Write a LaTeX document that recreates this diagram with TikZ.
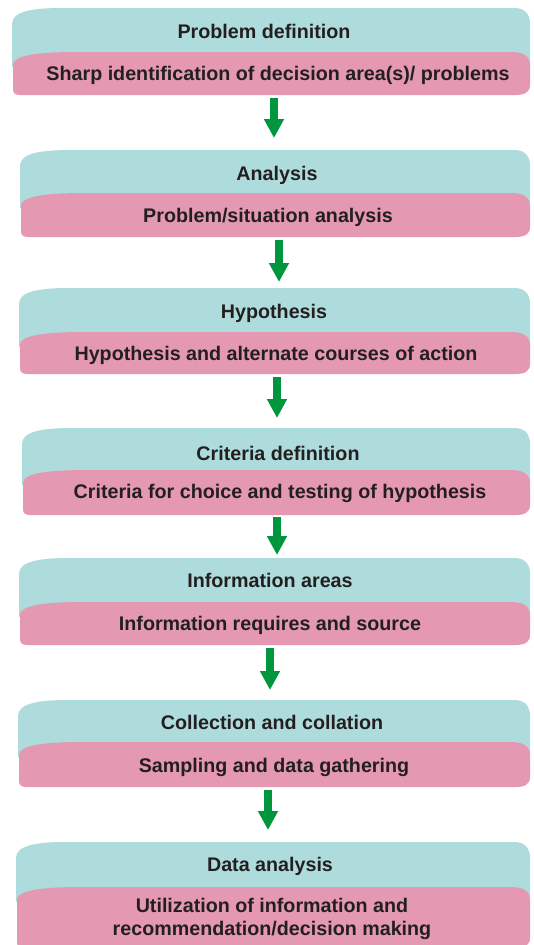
\documentclass[tikz,border=0pt]{standalone}
\usepackage{fontspec}
\setmainfont{Liberation Sans}
\usetikzlibrary{arrows.meta}
\definecolor{tealband}{RGB}{174,219,220}
\definecolor{pinkband}{RGB}{228,152,178}
\definecolor{arrowgreen}{RGB}{0,150,62}
\definecolor{txt}{RGB}{35,31,32}
\newcommand\drawstage[5]{%
  \fill[tealband] (#4,#2+15) -- (#4,#1+16) .. controls (#4,#1+4) and (#4+18,#1) .. (#4+50,#1)
     -- (#5-16,#1) .. controls (#5-6,#1) and (#5,#1+5) .. (#5,#1+16) -- (#5,#2+15) -- cycle;
  \fill[pinkband] (#4+1,#3-6) -- (#4+1,#2+13) .. controls (#4+1,#2+4) and (#4+22,#2) .. (#4+65,#2)
     -- (#5-20,#2) .. controls (#5-6,#2) and (#5,#2+4) .. (#5,#2+14)
     -- (#5,#3-10) .. controls (#5,#3-3) and (#5-5,#3) .. (#5-14,#3)
     -- (#4+8,#3) .. controls (#4+3,#3) and (#4+1,#3-2) .. (#4+1,#3-6) -- cycle;
}
\tikzset{
  lbl/.style={text=txt, font=\fontsize{19.7}{23}\selectfont\bfseries, inner sep=0pt, align=center},
  bigarrow/.style={draw=arrowgreen, line width=7.5pt, -{Triangle[width=19pt,length=19pt]}}
}
\begin{document}
\begin{tikzpicture}[x=1pt,y=-1pt]
\useasboundingbox (0,0) rectangle (533,945);
\drawstage{8}{52}{95}{12}{530}
\drawstage{150}{193}{237}{20}{530}
\drawstage{288}{332}{374}{19}{530}
\drawstage{428}{470}{515}{22}{530}
\drawstage{558}{602}{645}{19}{530}
\drawstage{700}{742}{787}{18}{530}
\drawstage{842}{887}{948}{16}{530}

\node[lbl] (h1) at (264,31) {Problem definition};
\node[lbl] (s1) at (278,75) {Sharp identification of decision area(s)/ problems};
\node[lbl] (h2) at (277,175) {Analysis};
\node[lbl] (s2) at (268,217) {Problem/situation analysis};
\node[lbl] (h3) at (274,313) {Hypothesis};
\node[lbl] (s3) at (276,355) {Hypothesis and alternate courses of action};
\node[lbl] (h4) at (278,453) {Criteria definition};
\node[lbl] (s4) at (280,493) {Criteria for choice and testing of hypothesis};
\node[lbl] (h5) at (270,580) {Information areas};
\node[lbl] (s5) at (270,625) {Information requires and source};
\node[lbl] (h6) at (272,722) {Collection and collation};
\node[lbl] (s6) at (274,767) {Sampling and data gathering};
\node[lbl] (h7) at (270,866) {Data analysis};
\node[lbl] (s7) at (272,919) {Utilization of information and\\recommendation/decision making};

\coordinate (a1s) at (274,98);  \coordinate (a1e) at (274,138);
\coordinate (a2s) at (279,240); \coordinate (a2e) at (279,282);
\coordinate (a3s) at (277,377); \coordinate (a3e) at (277,418);
\coordinate (a4s) at (277,517); \coordinate (a4e) at (277,555);
\coordinate (a5s) at (270,648); \coordinate (a5e) at (270,690);
\coordinate (a6s) at (268,790); \coordinate (a6e) at (268,830);
\draw[bigarrow] (a1s) -- (a1e);
\draw[bigarrow] (a2s) -- (a2e);
\draw[bigarrow] (a3s) -- (a3e);
\draw[bigarrow] (a4s) -- (a4e);
\draw[bigarrow] (a5s) -- (a5e);
\draw[bigarrow] (a6s) -- (a6e);
\end{tikzpicture}
\end{document}
